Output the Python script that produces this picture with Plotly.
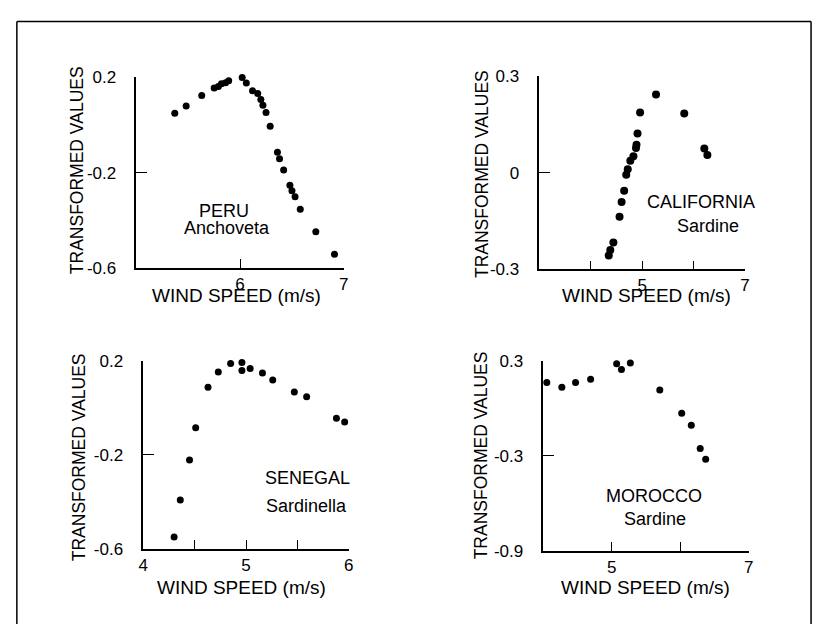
import plotly.graph_objects as go

W, H = 821, 634
FONT = "Liberation Sans, Arial, Helvetica, sans-serif"

# ---------------- data ----------------
peru_x = [5.37, 5.48, 5.63, 5.75, 5.79, 5.82, 5.86, 5.89, 5.92, 5.94, 5.98, 6.02,
          6.06, 6.12, 6.17, 6.20, 6.22, 6.25, 6.29, 6.36, 6.38, 6.42, 6.48, 6.50,
          6.53, 6.58, 6.73, 6.91]
peru_y = [0.049, 0.080, 0.124, 0.155, 0.162, 0.173, 0.178, 0.186, 0.203, 0.207, 0.210, 0.200,
          0.176, 0.144, 0.132, 0.107, 0.083, 0.053, -0.005, -0.114, -0.141, -0.189, -0.253, -0.276,
          -0.301, -0.353, -0.448, -0.542]

cal_x = [4.35, 4.38, 4.44, 4.56, 4.60, 4.65, 4.69, 4.72, 4.77, 4.83, 4.88, 4.89,
         4.91, 4.96, 5.27, 5.82, 6.21, 6.27]
cal_y = [-0.257, -0.240, -0.217, -0.137, -0.091, -0.056, -0.006, 0.011, 0.037, 0.051, 0.077, 0.087,
         0.122, 0.187, 0.243, 0.184, 0.075, 0.055]

sen_x = [4.30, 4.36, 4.45, 4.51, 4.63, 4.73, 4.85, 4.96, 4.96, 5.04, 5.16, 5.26,
         5.47, 5.59, 5.88, 5.96, 6.02]
sen_y = [-0.549, -0.392, -0.222, -0.084, 0.088, 0.152, 0.189, 0.193, 0.159, 0.167, 0.148, 0.118,
         0.067, 0.047, -0.044, -0.060, -0.079]

mor_x = [3.95, 4.05, 4.27, 4.47, 4.69, 5.07, 5.14, 5.27, 5.70, 6.02, 6.16, 6.29, 6.37]
mor_y = [0.178, 0.163, 0.133, 0.163, 0.184, 0.282, 0.245, 0.286, 0.116, -0.031, -0.108, -0.255, -0.322]

peru_xticks = [6, 7]
peru_xlabels = ["6", "7"]
peru_yticks = [-0.6, -0.2, 0.2]
peru_ylabels = ["-0.6", "-0.2", "0.2"]

cal_xticks = [4, 5, 6, 7]
cal_xlabels = ["", "5", "", "7"]
cal_yticks = [-0.3, 0, 0.3]
cal_ylabels = ["-0.3", "0", "0.3"]

sen_xticks = [4, 4.5, 5, 5.5, 6]
sen_xlabels = ["4", "", "5", "", "6"]
sen_yticks = [-0.6, -0.2, 0.2]
sen_ylabels = ["-0.6", "-0.2", "0.2"]

mor_xticks = [5, 6, 7]
mor_xlabels = ["5", "", "7"]
mor_yticks = [-0.9, -0.3, 0.3]
mor_ylabels = ["-0.9", "-0.3", "0.3"]

x_title = "WIND SPEED (m/s)"
y_title = "TRANSFORMED VALUES"

# ---------------- layout helpers (pixel -> paper) ----------------
def fx(p):
    return p / W


def fy(p):
    return 1 - p / H


panels = [
    dict(x=peru_x, y=peru_y, xr=[5, 7], yr=[-0.6, 0.2],
         xt=peru_xticks, xl=peru_xlabels, yt=peru_yticks, yl=peru_ylabels,
         px=(133, 343), py=(70.5, 267), msize=7,
         labels=[("PERU", 222, 208), ("Anchoveta", 225, 226)],
         xtitle=(234, 295), ytitle=(73, 166)),
    dict(x=cal_x, y=cal_y, xr=[3, 7], yr=[-0.3, 0.3],
         xt=cal_xticks, xl=cal_xlabels, yt=cal_yticks, yl=cal_ylabels,
         px=(541, 749), py=(69.3, 268.3), msize=8,
         labels=[("CALIFORNIA", 705, 199), ("Sardine", 712, 224)],
         xtitle=(649, 295), ytitle=(483, 170)),
    dict(x=sen_x, y=sen_y, xr=[4, 6], yr=[-0.6, 0.2],
         xt=sen_xticks, xl=sen_xlabels, yt=sen_yticks, yl=sen_ylabels,
         px=(140, 348), py=(362.7, 556.7), msize=7,
         labels=[("SENEGAL", 306, 483), ("Sardinella", 305, 512)],
         xtitle=(239, 596), ytitle=(75, 462)),
    dict(x=mor_x, y=mor_y, xr=[4, 7], yr=[-0.9, 0.3],
         xt=mor_xticks, xl=mor_xlabels, yt=mor_yticks, yl=mor_ylabels,
         px=(545, 753), py=(362.7, 558.3), msize=7,
         labels=[("MOROCCO", 657, 502), ("Sardine", 658, 526)],
         xtitle=(648, 596), ytitle=(482, 460)),
]

fig = go.Figure()
annotations = []
layout_axes = {}

for i, p in enumerate(panels, start=1):
    sfx = "" if i == 1 else str(i)
    fig.add_trace(go.Scatter(
        x=p["x"], y=p["y"], mode="markers",
        marker=dict(color="black", size=p["msize"], line=dict(width=0)),
        xaxis="x" + sfx, yaxis="y" + sfx, showlegend=False, cliponaxis=False,
        hoverinfo="x+y",
    ))
    layout_axes["xaxis" + sfx] = dict(
        domain=[fx(p["px"][0]), fx(p["px"][1])], range=p["xr"],
        anchor="y" + sfx, showgrid=False, zeroline=False,
        showline=True, linecolor="black", linewidth=1.5,
        ticks="inside", ticklen=9, tickwidth=1.3, tickcolor="black",
        tickmode="array", tickvals=p["xt"], ticktext=p["xl"],
        tickfont=dict(family=FONT, size=17, color="black"),
        ticklabelstandoff=0,
        fixedrange=True,
    )
    layout_axes["yaxis" + sfx] = dict(
        domain=[fy(p["py"][1]), fy(p["py"][0])], range=p["yr"],
        anchor="x" + sfx, showgrid=False, zeroline=False,
        showline=True, linecolor="black", linewidth=1.5,
        ticks="inside", ticklen=11, tickwidth=1.3, tickcolor="black",
        tickmode="array", tickvals=p["yt"], ticktext=p["yl"],
        tickfont=dict(family=FONT, size=17, color="black"),
        ticklabelstandoff=15,
        fixedrange=True,
    )
    for txt, ax_, ay_ in p["labels"]:
        annotations.append(dict(
            text=txt, x=fx(ax_), y=fy(ay_), xref="paper", yref="paper",
            xanchor="center", yanchor="middle", showarrow=False,
            font=dict(family=FONT, size=18, color="black"),
        ))
    annotations.append(dict(
        text=x_title, x=fx(p["xtitle"][0]), y=fy(p["xtitle"][1]),
        xref="paper", yref="paper", xanchor="center", yanchor="middle",
        showarrow=False, font=dict(family=FONT, size=19, color="black"),
    ))
    annotations.append(dict(
        text=y_title, x=fx(p["ytitle"][0]), y=fy(p["ytitle"][1]),
        xref="paper", yref="paper", xanchor="center", yanchor="middle",
        textangle=-90, showarrow=False,
        font=dict(family=FONT, size=17.5, color="black"),
    ))

frame = dict(xref="paper", yref="paper", type="line",
             line=dict(color="black", width=1.5))
shapes = [
    dict(frame, x0=fx(12), x1=fx(12), y0=0, y1=fy(13)),
    dict(frame, x0=fx(12), x1=fx(816), y0=fy(13), y1=fy(13)),
    dict(frame, x0=fx(816), x1=fx(816), y0=0, y1=fy(13)),
]

fig.update_layout(
    width=W, height=H, autosize=False,
    margin=dict(l=0, r=0, t=0, b=0),
    paper_bgcolor="white", plot_bgcolor="white",
    annotations=annotations,
    shapes=shapes,
    **layout_axes,
)

fig.write_html(
    "out.html",
    config={"displayModeBar": False},
    post_script="document.body.style.margin='0px';document.body.style.overflow='hidden';",
)
